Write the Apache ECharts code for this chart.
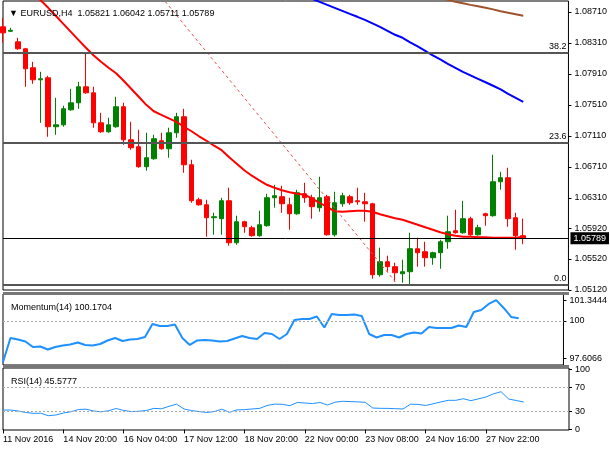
<!DOCTYPE html>
<html>
<head>
<meta charset="utf-8">
<script src="https://cdn.jsdelivr.net/npm/echarts@6/dist/echarts.min.js"></script>
<style>
  html, body { margin: 0; padding: 0; background: #fff; }
  #chart { width: 610px; height: 450px; }
</style>
</head>
<body>
<div id="chart"></div>
<script>
// EURUSD H4 candles
var open = [1.08517,1.08459,1.08323,1.08233,1.07988,1.07833,1.07859,1.07227,1.07252,1.07446,
  1.07536,1.07743,1.07665,1.07278,1.07162,1.07227,1.07485,1.07059,1.06969,1.06711,
  1.06814,1.07046,1.06943,1.07149,1.07356,1.06736,1.06285,1.06220,1.06053,1.06040,
  1.06272,1.05730,1.06001,1.05924,1.05821,1.05950,1.06311,1.06324,1.06220,1.06104,
  1.06362,1.06311,1.06182,1.06324,1.05833,1.06233,1.06324,1.06272,1.06259,1.06233,
  1.05317,1.05485,1.05421,1.05330,1.05356,1.05653,1.05614,1.05537,1.05601,1.05743,
  1.05885,1.05859,1.06040,1.05833,1.06104,1.06079,1.06517,1.06569,1.06053,1.05821];
var close = [1.08439,1.08472,1.08233,1.07975,1.07833,1.07846,1.07227,1.07252,1.07459,1.07536,
  1.07743,1.07665,1.07278,1.07162,1.07252,1.07485,1.07059,1.06956,1.06711,1.06827,
  1.07072,1.06943,1.07149,1.07356,1.06736,1.06272,1.06220,1.06053,1.06066,1.06272,
  1.05730,1.06001,1.05937,1.05821,1.05962,1.06311,1.06337,1.06233,1.06104,1.06375,
  1.06311,1.06195,1.06311,1.05833,1.06246,1.06337,1.06246,1.06259,1.06233,1.05317,
  1.05485,1.05421,1.05343,1.05356,1.05653,1.05601,1.05537,1.05601,1.05743,1.05872,
  1.05859,1.06040,1.05833,1.05924,1.06079,1.06517,1.06569,1.06040,1.05821,1.05789];
var low = [1.08310,1.08452,1.08220,1.07743,1.07781,1.07278,1.07098,1.07123,1.07227,1.07433,
  1.07459,1.07652,1.07214,1.07149,1.07149,1.07214,1.06994,1.06930,1.06698,1.06659,
  1.06801,1.06930,1.06827,1.07085,1.06633,1.06246,1.06208,1.05808,1.05833,1.05833,
  1.05692,1.05704,1.05859,1.05808,1.05808,1.05937,1.06182,1.06117,1.05898,1.06091,
  1.06246,1.06040,1.06130,1.05821,1.05808,1.06195,1.06220,1.06220,1.06001,1.05266,
  1.05292,1.05356,1.05227,1.05214,1.05180,1.05421,1.05421,1.05446,1.05395,1.05653,
  1.05846,1.05846,1.05821,1.05821,1.05950,1.06066,1.06414,1.05937,1.05640,1.05711];
var high = [1.08633,1.08504,1.08375,1.08246,1.08065,1.07936,1.07885,1.07601,1.07498,1.07717,
  1.07807,1.08181,1.07743,1.07407,1.07343,1.07614,1.07536,1.07291,1.07188,1.07149,
  1.07123,1.07149,1.07214,1.07407,1.07459,1.06801,1.06311,1.06285,1.06117,1.06311,
  1.06440,1.06079,1.06014,1.05950,1.06143,1.06362,1.06478,1.06466,1.06311,1.06414,
  1.06504,1.06349,1.06582,1.06349,1.06388,1.06375,1.06349,1.06440,1.06375,1.06246,
  1.05666,1.05563,1.05472,1.05511,1.05859,1.05795,1.05743,1.05614,1.05769,1.06079,
  1.06156,1.06272,1.06066,1.05962,1.06117,1.06865,1.06646,1.06698,1.06117,1.06042];

// moving averages
var redMa = [1.09368,1.09265,1.09162,1.09059,1.08955,1.08859,1.08762,1.08659,1.08555,1.08452,
  1.08349,1.08246,1.08149,1.08065,1.07988,1.07917,1.07820,1.07717,1.07614,1.07510,
  1.07427,1.07381,1.07336,1.07291,1.07227,1.07169,1.07104,1.07046,1.06982,1.06924,
  1.06833,1.06749,1.06665,1.06595,1.06536,1.06478,1.06440,1.06407,1.06382,1.06362,
  1.06350,1.06298,1.06246,1.06188,1.06137,1.06130,1.06137,1.06143,1.06143,1.06130,
  1.06098,1.06072,1.06046,1.06027,1.05995,1.05963,1.05930,1.05898,1.05866,1.05840,
  1.05821,1.05808,1.05808,1.05802,1.05802,1.05795,1.05795,1.05795,1.05795,1.05808];
var blueStart = 38;
var blueMa = [1.08994,1.08955,1.08917,1.08878,1.08839,1.08800,1.08762,1.08723,1.08684,1.08646,
  1.08607,1.08562,1.08517,1.08465,1.08414,1.08375,1.08317,1.08265,1.08207,1.08149,
  1.08097,1.08039,1.07988,1.07936,1.07891,1.07846,1.07801,1.07756,1.07710,1.07652,
  1.07601,1.07549];
var brownStart = 58;
var brownMa = [1.08884,1.08865,1.08839,1.08820,1.08800,1.08781,1.08762,1.08742,1.08717,1.08697,
  1.08678,1.08659];

// trend line ends [bar index, price]
var trendLine = [[21, 1.08904], [52, 1.05230]];

// horizontal levels
var fibLevels = [1.0818, 1.0702, 1.0519];
var fibNames = ['38.2', '23.6', '0.0'];
var lastPrice = 1.05789;

// indicators
var momentum = [97.355,98.903,98.806,98.677,98.323,98.355,98.161,98.323,98.419,98.484,
  98.613,98.452,98.419,98.516,98.742,98.903,98.710,98.806,98.839,98.968,
  99.806,99.677,99.677,99.774,98.903,98.452,98.742,98.774,98.742,98.677,
  98.710,98.871,99.032,98.903,98.839,99.226,99.161,98.839,99.161,100.065,
  100.129,100.129,100.290,99.581,100.452,100.387,100.387,100.419,100.323,99.161,
  98.935,99.097,99.097,98.935,99.161,99.258,99.194,99.613,99.548,99.548,
  99.548,99.710,99.613,100.581,100.710,101.097,101.3444,100.839,100.258,100.1704];
var rsi = [32.2,32.2,30.6,28.1,26.7,26.9,22.8,23.9,27.2,29.2,
  33.1,33.6,30.6,29.2,31.1,34.7,31.4,29.6,30.1,31.4,
  34.9,34.2,38.4,41.9,33.9,31.2,29.6,28.2,29.6,33.6,
  28.4,32.4,32.9,33.9,34.9,39.7,42.0,41.7,39.4,44.7,
  43.9,42.9,44.7,40.5,45.2,46.7,46.2,45.7,45.0,35.5,
  35.0,34.9,34.4,33.9,41.9,41.5,39.7,42.5,45.5,48.3,
  48.3,51.0,47.7,50.8,53.8,59.1,62.6,50.5,48.0,45.5777];

// tick labels
var priceTicks = [1.0871, 1.0831, 1.0791, 1.0751, 1.0711, 1.0671, 1.0631, 1.0592, 1.0552, 1.0512];
var momTicks = [101.3444, 100, 97.6066];
var rsiTicks = [100, 70, 30, 0];
var timeIdx = [0, 8, 16, 24, 32, 40, 48, 56, 64];
var timeText = ['11 Nov 2016', '14 Nov 20:00', '16 Nov 04:00', '17 Nov 12:00', '18 Nov 20:00',
  '22 Nov 00:00', '23 Nov 08:00', '24 Nov 16:00', '27 Nov 22:00'];
var barSlots = 76; // bars plus empty space on the right

var categories = [];
for (var i = 0; i < barSlots; i++) categories.push(String(i));

var candles = open.map(function (o, i) { return [o, close[i], low[i], high[i]]; });

function pad(start, arr) {
  var out = [];
  for (var i = 0; i < start; i++) out.push(null);
  return out.concat(arr);
}

var font = 'Liberation Sans, Arial, sans-serif';
var txt = { color: '#000', fontSize: 9, fontFamily: font, fontWeight: 'normal' };
function showTime(idx) { return timeIdx.indexOf(idx) >= 0; }

function xAx(grid, show) {
  return {
    type: 'category', gridIndex: grid, data: categories, boundaryGap: false,
    axisLine: { show: false },
    axisTick: { show: show, interval: showTime, length: 4, lineStyle: { color: '#000' } },
    axisLabel: {
      show: show, interval: showTime, align: 'left', margin: 5,
      color: '#000', fontSize: 9, fontFamily: font,
      formatter: function (v) { return timeText[timeIdx.indexOf(Number(v))] || ''; }
    },
    splitLine: { show: false }
  };
}

function yAx(grid, min, max, ticks, fmt) {
  return {
    type: 'value', gridIndex: grid, position: 'right', min: min, max: max, scale: true,
    axisLine: { show: false },
    axisTick: { show: true, customValues: ticks, length: 3, lineStyle: { color: '#000' } },
    axisLabel: { customValues: ticks, margin: 6, color: '#000', fontSize: 9, fontFamily: font, formatter: fmt },
    splitLine: { show: false }
  };
}

var dotted = { color: '#aaa', type: [2, 2], width: 1 };

var chart = echarts.init(document.getElementById('chart'));
chart.setOption({
  animation: false,
  backgroundColor: '#fff',
  title: [
    { text: '▼ EURUSD,H4  1.05821 1.06042 1.05711 1.05789', left: 4, top: 4, textStyle: txt },
    { text: 'Momentum(14) 100.1704', left: 6, top: 298, textStyle: txt },
    { text: 'RSI(14) 45.5777', left: 6, top: 372, textStyle: txt }
  ],
  graphic: [
    { type: 'rect', shape: { x: 3, y: 292, width: 566, height: 3 }, style: { fill: '#777' }, z: 100 },
    { type: 'rect', shape: { x: 3, y: 365, width: 566, height: 3 }, style: { fill: '#777' }, z: 100 }
  ],
  grid: [
    { left: 3, right: 41, top: 1, height: 289, show: true, borderColor: '#000', borderWidth: 1 },
    { left: 3, right: 41, top: 294, height: 71, show: true, borderColor: '#000', borderWidth: 1 },
    { left: 3, right: 41, top: 368, height: 62, show: true, borderColor: '#000', borderWidth: 1 }
  ],
  xAxis: [xAx(0, false), xAx(1, false), xAx(2, true)],
  yAxis: [
    yAx(0, 1.0512, 1.0885, priceTicks, function (v) { return v.toFixed(5); }),
    yAx(1, 97.16, 101.74, momTicks, function (v) { return v === 100 ? '100' : v.toFixed(4); }),
    yAx(2, -1, 102, rsiTicks, function (v) { return String(v); })
  ],
  series: [
    {
      type: 'candlestick', xAxisIndex: 0, yAxisIndex: 0, data: candles, barWidth: 5, clip: true,
      itemStyle: { color: '#008000', color0: '#ff0000', borderColor: '#008000', borderColor0: '#ff0000', borderWidth: 1 },
      markLine: {
        silent: true, symbol: ['none', 'none'], animation: false, precision: 5,
        data: fibLevels.map(function (v, i) {
          return {
            yAxis: v,
            lineStyle: { color: '#555', width: 2, type: 'solid' },
            label: { show: true, position: 'insideEndTop', formatter: fibNames[i], color: '#000', fontSize: 9, fontFamily: font, distance: 2 }
          };
        }).concat([{
          yAxis: lastPrice,
          lineStyle: { color: '#000', width: 1, type: 'solid' },
          label: { show: true, position: 'end', formatter: lastPrice.toFixed(5), color: '#fff', backgroundColor: '#000',
            padding: [2, 3, 1, 3], fontSize: 9, fontFamily: font, distance: 2 }
        }])
      }
    },
    { type: 'line', xAxisIndex: 0, yAxisIndex: 0, data: redMa, symbol: 'none', clip: true,
      lineStyle: { color: '#ff0000', width: 2 } },
    { type: 'line', xAxisIndex: 0, yAxisIndex: 0, data: pad(blueStart, blueMa), symbol: 'none', clip: true,
      lineStyle: { color: '#0000ff', width: 2 } },
    { type: 'line', xAxisIndex: 0, yAxisIndex: 0, data: pad(brownStart, brownMa), symbol: 'none', clip: true,
      lineStyle: { color: '#a0522d', width: 2 } },
    { type: 'line', xAxisIndex: 0, yAxisIndex: 0, data: trendLine, symbol: 'none', clip: true,
      lineStyle: { color: '#e05050', width: 1, type: [3, 3] } },
    {
      type: 'line', xAxisIndex: 1, yAxisIndex: 1, data: momentum, symbol: 'none',
      lineStyle: { color: '#1e90ff', width: 2 },
      markLine: { silent: true, symbol: ['none', 'none'], precision: 4, label: { show: false }, lineStyle: dotted, data: [{ yAxis: 100 }] }
    },
    {
      type: 'line', xAxisIndex: 2, yAxisIndex: 2, data: rsi, symbol: 'none',
      lineStyle: { color: '#1e90ff', width: 1 },
      markLine: { silent: true, symbol: ['none', 'none'], label: { show: false }, lineStyle: dotted, data: [{ yAxis: 70 }, { yAxis: 30 }] }
    }
  ]
});
</script>
</body>
</html>
